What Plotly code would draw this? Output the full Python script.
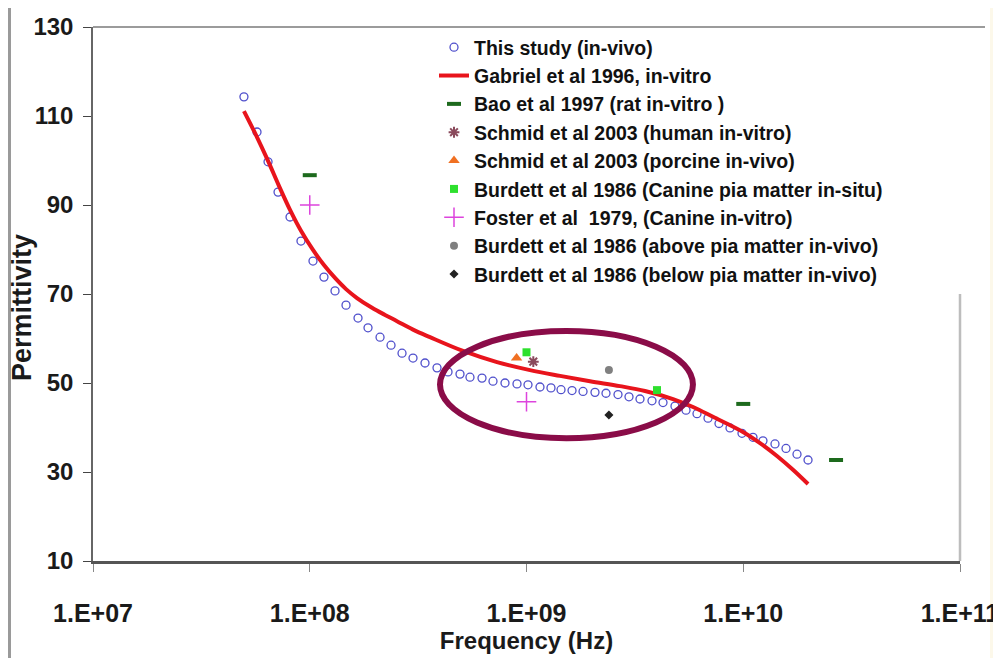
import plotly.graph_objects as go

# ---------------- data ----------------
study_freq_hz = [4.97e7, 5.71e7, 6.42e7, 7.14e7, 8.11e7, 9.11e7, 1.035e8, 1.163e8, 1.308e8,
                 1.470e8, 1.670e8, 1.857e8, 2.110e8, 2.371e8, 2.665e8, 2.995e8, 3.402e8,
                 3.865e8, 4.344e8, 4.934e8, 5.486e8, 6.233e8, 7.005e8, 7.958e8, 9.04e8,
                 1.016e9, 1.154e9, 1.297e9, 1.443e9, 1.622e9, 1.823e9, 2.070e9, 2.327e9,
                 2.643e9, 2.971e9, 3.339e9, 3.793e9, 4.264e9, 4.843e9, 5.444e9, 6.118e9,
                 6.877e9, 7.729e9, 8.687e9, 9.867e9, 1.109e10, 1.233e10, 1.401e10,
                 1.575e10, 1.770e10, 1.990e10]
study_perm = [114.3, 106.4, 99.7, 92.9, 87.3, 81.9, 77.4, 73.8, 70.7, 67.5, 64.6, 62.4, 60.3,
              58.5, 56.7, 55.6, 54.5, 53.4, 52.5, 52.0, 51.3, 51.1, 50.4, 50.0, 49.8, 49.6,
              49.1, 48.9, 48.5, 48.3, 48.1, 47.9, 47.7, 47.4, 46.9, 46.4, 46.0, 45.6, 44.8,
              43.9, 43.1, 42.1, 40.9, 39.9, 38.7, 37.8, 37.0, 36.3, 35.3, 34.0, 32.7]

gabriel_freq_hz = [4.97e7, 5.65e7, 6.42e7, 7.21e7, 8.11e7, 9.11e7, 1.035e8, 1.163e8, 1.308e8,
                   1.470e8, 1.652e8, 1.938e8, 2.225e8, 2.527e8, 2.995e8, 3.588e8, 5.094e8,
                   7.31e8, 1.038e9, 1.428e9, 1.963e9, 2.700e9, 3.522e9, 4.742e9, 5.866e9,
                   7.252e9, 9.97e9, 1.195e10, 1.431e10, 1.696e10, 1.990e10]
gabriel_perm = [111.1, 105.7, 99.9, 94.3, 88.9, 84.2, 79.9, 76.5, 73.6, 71.1, 69.1, 66.9,
                65.3, 63.9, 62.0, 60.3, 57.2, 54.7, 52.9, 51.6, 50.4, 49.3, 48.2, 46.4, 44.6,
                42.4, 39.0, 36.5, 33.6, 30.5, 27.3]

bao_freq_hz = [1.0e8, 1.0e10, 2.68e10]
bao_perm = [96.7, 45.3, 32.7]

schmid_human_freq_hz = [1.075e9]
schmid_human_perm = [54.8]

schmid_porcine_freq_hz = [9.0e8]
schmid_porcine_perm = [55.6]

burdett_canine_freq_hz = [1.0e9, 4.0e9]
burdett_canine_perm = [56.9, 48.4]

foster_freq_hz = [1.0e8, 1.0e9]
foster_perm = [90.0, 45.8]

burdett_above_freq_hz = [2.4e9]
burdett_above_perm = [52.9]

burdett_below_freq_hz = [2.4e9]
burdett_below_perm = [42.8]

# highlighted region (ellipse) in data units
highlight_freq_hz = [3.99e8, 5.86e9]
highlight_perm = [37.6, 61.7]

x_tick_vals = [1e7, 1e8, 1e9, 1e10, 1e11]
x_tick_text = ["1.E+07", "1.E+08", "1.E+09", "1.E+10", "1.E+11"]
y_tick_vals = [10, 30, 50, 70, 90, 110, 130]

names = [
    "This study (in-vivo)",
    "Gabriel et al 1996, in-vitro",
    "Bao et al 1997 (rat in-vitro )",
    "Schmid et al 2003 (human in-vitro)",
    "Schmid et al 2003 (porcine in-vivo)",
    "Burdett et al 1986 (Canine pia matter in-situ)",
    "Foster et al  1979, (Canine in-vitro)",
    "Burdett et al 1986 (above pia matter in-vivo)",
    "Burdett et al 1986 (below pia matter in-vivo)",
]

FONT = "Liberation Sans, Arial, sans-serif"

fig = go.Figure()
fig.add_trace(go.Scatter(x=study_freq_hz, y=study_perm, mode="markers", name=names[0],
                         marker=dict(symbol="circle-open", size=8, color="#5050cc",
                                     line=dict(width=1.3, color="#5050cc"))))
fig.add_trace(go.Scatter(x=gabriel_freq_hz, y=gabriel_perm, mode="lines", name=names[1],
                         line=dict(color="#e8141c", width=4, shape="spline", smoothing=1.0)))
fig.add_trace(go.Scatter(x=bao_freq_hz, y=bao_perm, mode="markers", name=names[2],
                         marker=dict(symbol="line-ew-open", size=10, color="#1d6a1d",
                                     line=dict(width=4, color="#1d6a1d"))))
fig.add_trace(go.Scatter(x=schmid_human_freq_hz, y=schmid_human_perm, mode="markers", name=names[3],
                         marker=dict(symbol="asterisk-open", size=9, color="#8a4a5c",
                                     line=dict(width=2, color="#8a4a5c"))))
fig.add_trace(go.Scatter(x=schmid_porcine_freq_hz, y=schmid_porcine_perm, mode="markers", name=names[4],
                         marker=dict(symbol="triangle-up", size=10, color="#f07022")))
fig.add_trace(go.Scatter(x=burdett_canine_freq_hz, y=burdett_canine_perm, mode="markers", name=names[5],
                         marker=dict(symbol="square", size=8, color="#2ee02e")))
fig.add_trace(go.Scatter(x=foster_freq_hz, y=foster_perm, mode="markers", name=names[6],
                         marker=dict(symbol="cross-thin-open", size=14, color="#dd44dd",
                                     line=dict(width=1.5, color="#dd44dd"))))
fig.add_trace(go.Scatter(x=burdett_above_freq_hz, y=burdett_above_perm, mode="markers", name=names[7],
                         marker=dict(symbol="circle", size=8, color="#808080")))
fig.add_trace(go.Scatter(x=burdett_below_freq_hz, y=burdett_below_perm, mode="markers", name=names[8],
                         marker=dict(symbol="diamond", size=7, color="#222222")))

# page is rendered with an 8px body margin
W, H = 993, 650
L, R, T, B = 85, 41, 19, 97
pw, ph = W - L - R, H - T - B          # 867 x 534
PLOT_LEFT_PAGE, PLOT_BOTTOM_PAGE = 93, 561


def px_x(p):
    return (p - PLOT_LEFT_PAGE) / pw


def px_y(p):
    return (PLOT_BOTTOM_PAGE - p) / ph


shapes = [
    # highlight ellipse
    dict(type="circle", xref="x", yref="y",
         x0=highlight_freq_hz[0], x1=highlight_freq_hz[1],
         y0=highlight_perm[0], y1=highlight_perm[1],
         line=dict(color="#8a0c48", width=6), layer="above"),
    # top border of plot area
    dict(type="line", xref="paper", yref="paper", x0=0, x1=px_x(985), y0=1, y1=1,
         line=dict(color="#7a7a7a", width=1.5)),
    # right border (lower part)
    dict(type="line", xref="paper", yref="y", x0=1, x1=1, y0=10, y1=70,
         line=dict(color="#bdbdbd", width=2.5)),
    # outer frame left edge
    dict(type="line", xref="paper", yref="paper", x0=px_x(9.5), x1=px_x(9.5),
         y0=px_y(660), y1=px_y(6), line=dict(color="#9a9a9a", width=3)),
    # right cream strip
    dict(type="rect", xref="paper", yref="paper", x0=px_x(990), x1=px_x(1003),
         y0=px_y(660), y1=px_y(6), fillcolor="#fcf8ea", line=dict(width=0), layer="below"),
]

annotations = [
    dict(text="Permittivity", xref="paper", yref="paper", x=px_x(22), y=px_y(308),
         xanchor="center", yanchor="middle", textangle=-90, showarrow=False,
         font=dict(family=FONT, size=27, weight="bold", color="#1a1a1a")),
]

fig.update_layout(
    width=W, height=H,
    margin=dict(l=L, r=R, t=T, b=B, autoexpand=False),
    paper_bgcolor="white", plot_bgcolor="white",
    font=dict(family=FONT, color="#1a1a1a"),
    showlegend=True,
    legend=dict(x=px_x(434), y=px_y(28), xanchor="left", yanchor="top",
                bgcolor="rgba(255,255,255,0)", borderwidth=0,
                font=dict(family=FONT, size=19.5, weight="bold", color="#111111"),
                itemwidth=30, tracegroupgap=0),
    shapes=shapes,
    annotations=annotations,
    xaxis=dict(type="log", range=[7, 11], tickvals=x_tick_vals, ticktext=x_tick_text,
               showgrid=False, zeroline=False, showline=True, linecolor="#555555", linewidth=2.5,
               ticks="outside", ticklen=8, tickcolor="#888888", tickwidth=1,
               tickfont=dict(family=FONT, size=25, weight="bold", color="#1a1a1a"),
               ticklabelstandoff=20,
               title=dict(text="Frequency (Hz)", standoff=0,
                          font=dict(family=FONT, size=24, weight="bold", color="#1a1a1a"))),
    yaxis=dict(range=[10, 130], tickvals=y_tick_vals,
               showgrid=False, zeroline=False, showline=True, linecolor="#666666", linewidth=1.5,
               ticks="outside", ticklen=8, tickcolor="#444444", tickwidth=1.2,
               tickfont=dict(family=FONT, size=24, weight="bold", color="#1a1a1a"),
               ticklabelstandoff=5),
)

fig.write_html("out.html")
